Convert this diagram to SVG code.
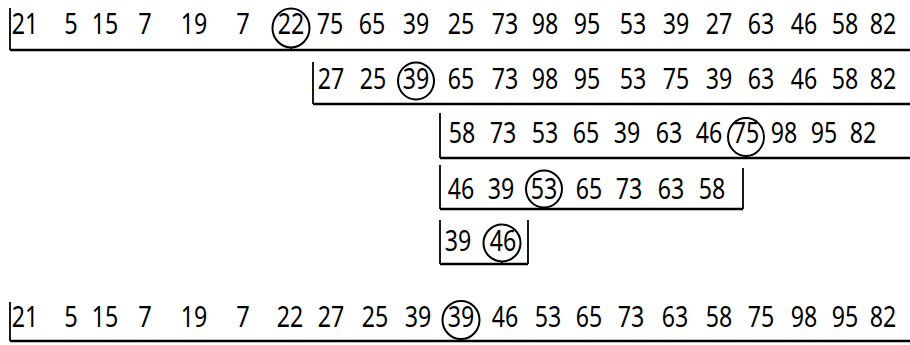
<svg xmlns="http://www.w3.org/2000/svg" width="910" height="345" viewBox="0 0 910 345">
<style>
text{font-family:"Noto Sans","Open Sans",sans-serif;font-size:29px;fill:#000;text-anchor:middle}
.ln{fill:none;stroke:#000;stroke-width:2.4}
.br{fill:none;stroke:#000;stroke-width:1.8}
.c{fill:none;stroke:#000;stroke-width:2}
</style>
<rect width="910" height="345" fill="#fff"/>
<g id="row1">
<text x="25" y="34" textLength="26.5" lengthAdjust="spacingAndGlyphs">21</text>
<text x="71" y="34" textLength="13.5" lengthAdjust="spacingAndGlyphs">5</text>
<text x="105" y="34" textLength="26.5" lengthAdjust="spacingAndGlyphs">15</text>
<text x="145" y="34" textLength="13.5" lengthAdjust="spacingAndGlyphs">7</text>
<text x="194" y="34" textLength="26.5" lengthAdjust="spacingAndGlyphs">19</text>
<text x="243" y="34" textLength="13.5" lengthAdjust="spacingAndGlyphs">7</text>
<text x="291" y="34" textLength="26.5" lengthAdjust="spacingAndGlyphs">22</text>
<text x="330" y="34" textLength="26.5" lengthAdjust="spacingAndGlyphs">75</text>
<text x="372" y="34" textLength="26.5" lengthAdjust="spacingAndGlyphs">65</text>
<text x="416" y="34" textLength="26.5" lengthAdjust="spacingAndGlyphs">39</text>
<text x="461" y="34" textLength="26.5" lengthAdjust="spacingAndGlyphs">25</text>
<text x="505" y="34" textLength="26.5" lengthAdjust="spacingAndGlyphs">73</text>
<text x="545" y="34" textLength="26.5" lengthAdjust="spacingAndGlyphs">98</text>
<text x="587" y="34" textLength="26.5" lengthAdjust="spacingAndGlyphs">95</text>
<text x="633" y="34" textLength="26.5" lengthAdjust="spacingAndGlyphs">53</text>
<text x="676" y="34" textLength="26.5" lengthAdjust="spacingAndGlyphs">39</text>
<text x="719" y="34" textLength="26.5" lengthAdjust="spacingAndGlyphs">27</text>
<text x="761" y="34" textLength="26.5" lengthAdjust="spacingAndGlyphs">63</text>
<text x="804" y="34" textLength="26.5" lengthAdjust="spacingAndGlyphs">46</text>
<text x="845" y="34" textLength="26.5" lengthAdjust="spacingAndGlyphs">58</text>
<text x="883" y="34" textLength="26.5" lengthAdjust="spacingAndGlyphs">82</text>
<ellipse class="c" cx="291" cy="28" rx="18.5" ry="19.5"/>
</g>
<g id="row2">
<text x="331" y="89" textLength="26.5" lengthAdjust="spacingAndGlyphs">27</text>
<text x="373" y="89" textLength="26.5" lengthAdjust="spacingAndGlyphs">25</text>
<text x="416" y="89" textLength="26.5" lengthAdjust="spacingAndGlyphs">39</text>
<text x="461" y="89" textLength="26.5" lengthAdjust="spacingAndGlyphs">65</text>
<text x="505" y="89" textLength="26.5" lengthAdjust="spacingAndGlyphs">73</text>
<text x="545" y="89" textLength="26.5" lengthAdjust="spacingAndGlyphs">98</text>
<text x="587" y="89" textLength="26.5" lengthAdjust="spacingAndGlyphs">95</text>
<text x="633" y="89" textLength="26.5" lengthAdjust="spacingAndGlyphs">53</text>
<text x="676" y="89" textLength="26.5" lengthAdjust="spacingAndGlyphs">75</text>
<text x="719" y="89" textLength="26.5" lengthAdjust="spacingAndGlyphs">39</text>
<text x="761" y="89" textLength="26.5" lengthAdjust="spacingAndGlyphs">63</text>
<text x="804" y="89" textLength="26.5" lengthAdjust="spacingAndGlyphs">46</text>
<text x="845" y="89" textLength="26.5" lengthAdjust="spacingAndGlyphs">58</text>
<text x="883" y="89" textLength="26.5" lengthAdjust="spacingAndGlyphs">82</text>
<ellipse class="c" cx="416" cy="81" rx="18" ry="18.5"/>
</g>
<g id="row3">
<text x="462" y="143" textLength="26.5" lengthAdjust="spacingAndGlyphs">58</text>
<text x="503" y="143" textLength="26.5" lengthAdjust="spacingAndGlyphs">73</text>
<text x="545" y="143" textLength="26.5" lengthAdjust="spacingAndGlyphs">53</text>
<text x="586" y="143" textLength="26.5" lengthAdjust="spacingAndGlyphs">65</text>
<text x="627" y="143" textLength="26.5" lengthAdjust="spacingAndGlyphs">39</text>
<text x="669" y="143" textLength="26.5" lengthAdjust="spacingAndGlyphs">63</text>
<text x="709" y="143" textLength="26.5" lengthAdjust="spacingAndGlyphs">46</text>
<text x="746" y="143" textLength="26.5" lengthAdjust="spacingAndGlyphs">75</text>
<text x="784" y="143" textLength="26.5" lengthAdjust="spacingAndGlyphs">98</text>
<text x="824" y="143" textLength="26.5" lengthAdjust="spacingAndGlyphs">95</text>
<text x="863" y="143" textLength="26.5" lengthAdjust="spacingAndGlyphs">82</text>
<ellipse class="c" cx="746" cy="137" rx="18" ry="19"/>
</g>
<g id="row4">
<text x="461" y="199" textLength="26.5" lengthAdjust="spacingAndGlyphs">46</text>
<text x="501" y="199" textLength="26.5" lengthAdjust="spacingAndGlyphs">39</text>
<text x="544" y="199" textLength="26.5" lengthAdjust="spacingAndGlyphs">53</text>
<text x="589" y="199" textLength="26.5" lengthAdjust="spacingAndGlyphs">65</text>
<text x="629" y="199" textLength="26.5" lengthAdjust="spacingAndGlyphs">73</text>
<text x="671" y="199" textLength="26.5" lengthAdjust="spacingAndGlyphs">63</text>
<text x="712" y="199" textLength="26.5" lengthAdjust="spacingAndGlyphs">58</text>
<ellipse class="c" cx="544" cy="189" rx="18" ry="18.5"/>
</g>
<g id="row5">
<text x="458" y="251" textLength="26.5" lengthAdjust="spacingAndGlyphs">39</text>
<text x="503" y="251" textLength="26.5" lengthAdjust="spacingAndGlyphs">46</text>
<ellipse class="c" cx="502" cy="243" rx="18.5" ry="18.5"/>
</g>
<g id="row6">
<text x="25" y="327" textLength="26.5" lengthAdjust="spacingAndGlyphs">21</text>
<text x="71" y="327" textLength="13.5" lengthAdjust="spacingAndGlyphs">5</text>
<text x="105" y="327" textLength="26.5" lengthAdjust="spacingAndGlyphs">15</text>
<text x="145" y="327" textLength="13.5" lengthAdjust="spacingAndGlyphs">7</text>
<text x="194" y="327" textLength="26.5" lengthAdjust="spacingAndGlyphs">19</text>
<text x="243" y="327" textLength="13.5" lengthAdjust="spacingAndGlyphs">7</text>
<text x="290" y="327" textLength="26.5" lengthAdjust="spacingAndGlyphs">22</text>
<text x="331" y="327" textLength="26.5" lengthAdjust="spacingAndGlyphs">27</text>
<text x="375" y="327" textLength="26.5" lengthAdjust="spacingAndGlyphs">25</text>
<text x="418" y="327" textLength="26.5" lengthAdjust="spacingAndGlyphs">39</text>
<text x="461" y="327" textLength="26.5" lengthAdjust="spacingAndGlyphs">39</text>
<text x="505" y="327" textLength="26.5" lengthAdjust="spacingAndGlyphs">46</text>
<text x="548" y="327" textLength="26.5" lengthAdjust="spacingAndGlyphs">53</text>
<text x="589" y="327" textLength="26.5" lengthAdjust="spacingAndGlyphs">65</text>
<text x="631" y="327" textLength="26.5" lengthAdjust="spacingAndGlyphs">73</text>
<text x="675" y="327" textLength="26.5" lengthAdjust="spacingAndGlyphs">63</text>
<text x="719" y="327" textLength="26.5" lengthAdjust="spacingAndGlyphs">58</text>
<text x="761" y="327" textLength="26.5" lengthAdjust="spacingAndGlyphs">75</text>
<text x="804" y="327" textLength="26.5" lengthAdjust="spacingAndGlyphs">98</text>
<text x="845" y="327" textLength="26.5" lengthAdjust="spacingAndGlyphs">95</text>
<text x="883" y="327" textLength="26.5" lengthAdjust="spacingAndGlyphs">82</text>
<ellipse class="c" cx="461" cy="320" rx="18.5" ry="19"/>
</g>
<g id="connectors">
<path class="br" d="M10,8V50"/><path class="ln" d="M10,50H910"/><path class="br" d="M291,47.5V50"/>
<path class="br" d="M313,62V104"/><path class="ln" d="M313,104H910"/>
<path class="br" d="M440,113V158"/><path class="ln" d="M440,158H910"/><path class="br" d="M746,156V158"/>
<path class="br" d="M440,165V209M743,168V209"/><path class="ln" d="M440,209H743"/><path class="br" d="M544,207.5V209"/>
<path class="br" d="M440,220V264M528,220V264"/><path class="ln" d="M440,264H528"/><path class="br" d="M502,261.5V264"/>
<path class="br" d="M10,302V341"/><path class="ln" d="M10,341H910"/><path class="br" d="M461,339V341"/>
</g>
</svg>
